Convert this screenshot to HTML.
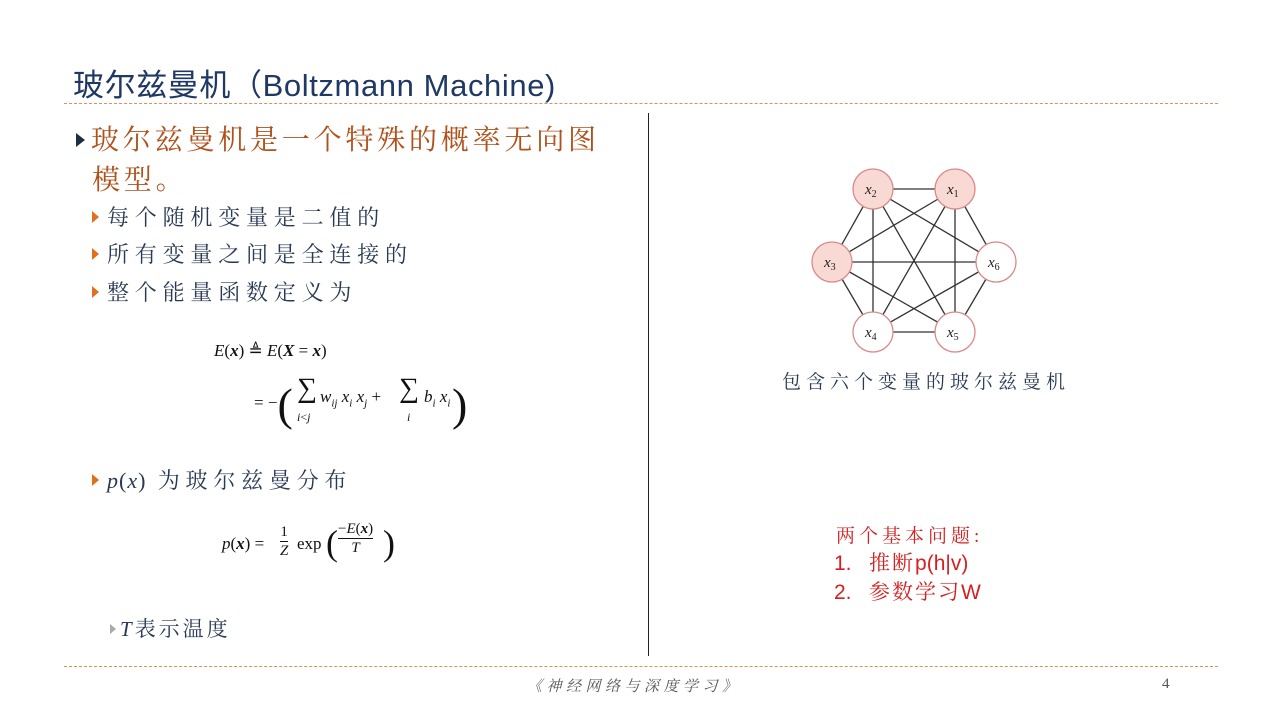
<!DOCTYPE html>
<html><head><meta charset="utf-8"><style>
body{margin:0;width:1280px;height:720px;background:#fff;position:relative;overflow:hidden;font-family:"Liberation Serif","Noto Serif CJK SC",serif}
.a{position:absolute;white-space:nowrap}
.dash{position:absolute;left:64px;width:1154px;border-top:1.3px dashed #d9915e}
.tri{display:inline-block;width:0;height:0;border-top:6px solid transparent;border-bottom:6px solid transparent;border-left:7px solid #e0701e;margin-right:8px;vertical-align:2px}
.cj{font-family:"Liberation Serif","Noto Serif CJK SC",serif;color:#2a3a55;font-size:22px;letter-spacing:5.8px}
.m{font-family:"Liberation Serif",serif;color:#111;font-size:17px}
</style></head><body>
<div class="a" style="left:73px;top:60px;font-family:'Liberation Sans','Noto Sans CJK SC',sans-serif;font-size:31px;color:#1f3864;letter-spacing:0.6px">玻尔兹曼机（Boltzmann Machine)</div>
<div class="dash" style="top:103px"></div>
<div class="dash" style="top:666px"></div>
<div class="a" style="left:648px;top:113px;width:1px;height:543px;background:#222"></div>

<div class="a" style="left:76px;top:118px;font-size:28px;color:#b0501a;letter-spacing:3.8px"><span class="tri" style="border-left-color:#1f2d45;border-top-width:7px;border-bottom-width:7px;border-left-width:9px;margin-right:6px"></span>玻尔兹曼机是一个特殊的概率无向图</div>
<div class="a" style="left:92px;top:158px;font-size:28px;color:#b0501a;letter-spacing:3.8px">模型。</div>
<div class="a cj" style="left:92px;top:201px"><span class="tri"></span>每个随机变量是二值的</div>
<div class="a cj" style="left:92px;top:238px"><span class="tri"></span>所有变量之间是全连接的</div>
<div class="a cj" style="left:92px;top:276px"><span class="tri"></span>整个能量函数定义为</div>

<div class="a m" style="left:214px;top:341px"><i>E</i>(<b><i>x</i></b>) ≜ <i>E</i>(<b><i>X</i></b> = <b><i>x</i></b>)</div>
<div class="a m" style="left:254px;top:378px">= −<span style="font-size:46px;vertical-align:-12px;font-weight:100">(</span></div>
<div class="a m" style="left:297px;top:373px;font-size:28px">∑</div>
<div class="a m" style="left:297px;top:410px;font-size:12px"><i>i</i>&lt;<i>j</i></div>
<div class="a m" style="left:320px;top:387px"><i>w<sub style="font-size:11px">ij</sub> x<sub style="font-size:11px">i</sub> x<sub style="font-size:11px">j</sub></i> +</div>
<div class="a m" style="left:399px;top:373px;font-size:28px">∑</div>
<div class="a m" style="left:407px;top:410px;font-size:12px"><i>i</i></div>
<div class="a m" style="left:424px;top:387px"><i>b<sub style="font-size:11px">i</sub> x<sub style="font-size:11px">i</sub></i></div>
<div class="a m" style="left:452px;top:378px"><span style="font-size:46px;vertical-align:-12px">)</span></div>

<div class="a cj" style="left:92px;top:464px"><span class="tri"></span><i style="font-family:'Liberation Serif';letter-spacing:1px">p</i><span style="letter-spacing:1px">(<i>x</i>)</span> 为玻尔兹曼分布</div>

<div class="a m" style="left:222px;top:534px"><i>p</i>(<b><i>x</i></b>) =</div>
<div class="a m" style="left:280px;top:523px;font-size:15px;text-align:center;line-height:18px">1<br><span style="display:block;border-top:1px solid #111"><i>Z</i></span></div>
<div class="a m" style="left:297px;top:534px">exp</div>
<div class="a m" style="left:326px;top:522px;font-size:36px;font-weight:100">(</div>
<div class="a m" style="left:338px;top:520px;font-size:15px;text-align:center;line-height:18px">−<i>E</i>(<b><i>x</i></b>)<br><span style="display:block;border-top:1px solid #111"><i>T</i></span></div>
<div class="a m" style="left:383px;top:522px;font-size:36px">)</div>

<div class="a cj" style="left:110px;top:613px;font-size:21px;letter-spacing:3px"><span class="tri" style="border-left-color:#aaa;border-top-width:5px;border-bottom-width:5px;border-left-width:6px;margin-right:4px"></span><i>T</i>表示温度</div>

<svg class="a" style="left:0;top:0" width="1280" height="720">
<g stroke="#333" stroke-width="1.3">
<line x1="873" y1="189" x2="955" y2="189"/><line x1="873" y1="189" x2="832" y2="262"/><line x1="873" y1="189" x2="873" y2="332"/><line x1="873" y1="189" x2="955" y2="332"/><line x1="873" y1="189" x2="996" y2="262"/>
<line x1="955" y1="189" x2="832" y2="262"/><line x1="955" y1="189" x2="873" y2="332"/><line x1="955" y1="189" x2="955" y2="332"/><line x1="955" y1="189" x2="996" y2="262"/>
<line x1="832" y1="262" x2="996" y2="262"/><line x1="832" y1="262" x2="873" y2="332"/><line x1="832" y1="262" x2="955" y2="332"/>
<line x1="873" y1="332" x2="955" y2="332"/><line x1="873" y1="332" x2="996" y2="262"/><line x1="955" y1="332" x2="996" y2="262"/>
</g>
<g stroke="#d88a8a" stroke-width="1.3">
<circle cx="873" cy="189" r="20" fill="#f8d9d4"/><circle cx="955" cy="189" r="20" fill="#f8d9d4"/><circle cx="832" cy="262" r="20" fill="#f8d9d4"/>
<circle cx="996" cy="262" r="20" fill="#fff"/><circle cx="873" cy="332" r="20" fill="#fff"/><circle cx="955" cy="332" r="20" fill="#fff"/>
</g>
<g font-family="Liberation Serif" font-style="italic" font-size="15" fill="#222">
<text x="865" y="194">x<tspan font-size="10" font-style="normal" dy="3">2</tspan></text>
<text x="947" y="194">x<tspan font-size="10" font-style="normal" dy="3">1</tspan></text>
<text x="824" y="267">x<tspan font-size="10" font-style="normal" dy="3">3</tspan></text>
<text x="988" y="267">x<tspan font-size="10" font-style="normal" dy="3">6</tspan></text>
<text x="865" y="337">x<tspan font-size="10" font-style="normal" dy="3">4</tspan></text>
<text x="947" y="337">x<tspan font-size="10" font-style="normal" dy="3">5</tspan></text>
</g>
</svg>

<div class="a cj" style="left:782px;top:367px;font-size:19px;letter-spacing:5px">包含六个变量的玻尔兹曼机</div>
<div class="a" style="left:836px;top:521px;font-size:19px;color:#d42020;letter-spacing:4px">两个基本问题:</div>
<div class="a" style="left:834px;top:547px;font-size:21px;color:#d42020;font-family:'Liberation Sans','Noto Serif CJK SC',sans-serif">1.&nbsp;&nbsp;&nbsp;<span style="font-family:'Noto Serif CJK SC';letter-spacing:2px">推断</span>p(h|v)</div>
<div class="a" style="left:834px;top:576px;font-size:21px;color:#d42020;font-family:'Liberation Sans','Noto Serif CJK SC',sans-serif">2.&nbsp;&nbsp;&nbsp;<span style="font-family:'Noto Serif CJK SC';letter-spacing:2px">参数学习</span>W</div>

<div class="a" style="left:527px;top:675px;font-size:15px;color:#555;font-style:italic;letter-spacing:4.5px">《神经网络与深度学习》</div>
<div class="a" style="left:1162px;top:676px;font-size:15px;color:#555">4</div>
</body></html>
